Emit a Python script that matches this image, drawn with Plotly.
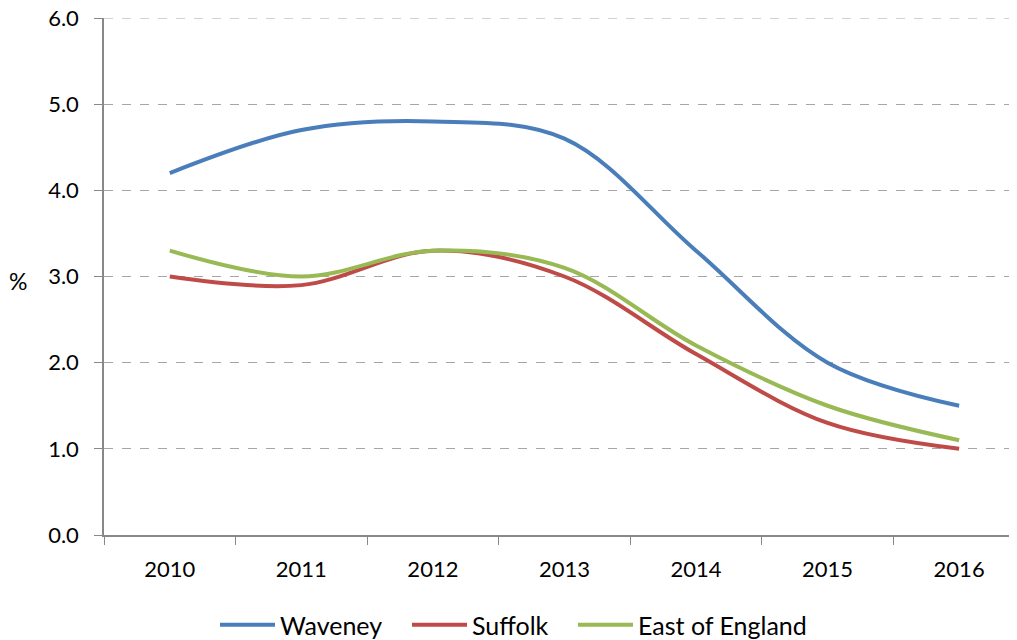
import plotly.graph_objects as go

years = ["2010", "2011", "2012", "2013", "2014", "2015", "2016"]
waveney = [4.2, 4.7, 4.8, 4.6, 3.3, 2.0, 1.5]
suffolk = [3.0, 2.9, 3.3, 3.0, 2.1, 1.3, 1.0]
east = [3.3, 3.0, 3.3, 3.1, 2.2, 1.5, 1.1]
y_ticks = [0, 1, 2, 3, 4, 5, 6]
y_tick_labels = ["0.0", "1.0", "2.0", "3.0", "4.0", "5.0", "6.0"]

FONT = "Lato, 'Open Sans', sans-serif"
W, H = 1009, 632  # page body has an 8px margin
MT, MB = 10, 105
PLOT_H = H - MT - MB

series = [("Waveney", waveney, "#4A7EBB", "legend", 223),
          ("Suffolk", suffolk, "#BE4B48", "legend2", 415),
          ("East of England", east, "#98B954", "legend3", 581)]

fig = go.Figure()
for name, vals, col, leg, _ in series:
    fig.add_trace(go.Scatter(x=years, y=vals, name=name, mode="lines", legend=leg,
                             line=dict(color=col, width=4, shape="spline", smoothing=1)))

# legend row centred 90px below the x axis line
legend_common = dict(orientation="h", xref="container", yref="paper",
                     xanchor="left", y=-90 / PLOT_H, yanchor="middle", itemwidth=55,
                     font=dict(size=25), bgcolor="rgba(0,0,0,0)")

fig.update_layout(
    width=W, height=H,
    margin=dict(l=96, r=0, t=MT, b=MB, autoexpand=False),
    plot_bgcolor="white", paper_bgcolor="white",
    font=dict(family=FONT, size=22, color="black"),
    showlegend=True,
    legend=dict(x=(series[0][4] - 16) / W, **legend_common),
    legend2=dict(x=(series[1][4] - 16) / W, **legend_common),
    legend3=dict(x=(series[2][4] - 16) / W, **legend_common),
    xaxis=dict(type="category", range=[-0.5, 6.44], showline=True,
               linecolor="#888888", linewidth=1.5, ticks="outside",
               tickson="boundaries", ticklen=8, tickcolor="#888888",
               showgrid=False, zeroline=False, ticklabelstandoff=14,
               automargin=False, ticklabeloverflow="allow"),
    yaxis=dict(range=[0, 6], tickvals=y_ticks, ticktext=y_tick_labels,
               showline=True, linecolor="#888888", linewidth=1.5,
               ticks="outside", ticklen=8, tickcolor="#888888",
               showgrid=True, gridcolor="#A6A6A6", griddash="dash", gridwidth=1,
               zeroline=False, ticklabelstandoff=11, automargin=False,
               ticklabeloverflow="allow"),
)
# top gridline (plotly omits gridlines on the range edge)
fig.add_shape(type="line", xref="paper", yref="y", x0=0, x1=1,
              y0=y_ticks[-1], y1=y_ticks[-1], layer="below",
              line=dict(color="#A6A6A6", width=1, dash="dash"))
fig.add_annotation(text="%", xref="paper", yref="y", x=0, y=3, xshift=-86,
                   yshift=-4, showarrow=False, xanchor="center", yanchor="middle",
                   font=dict(size=23))

fig.write_html("out.html")
